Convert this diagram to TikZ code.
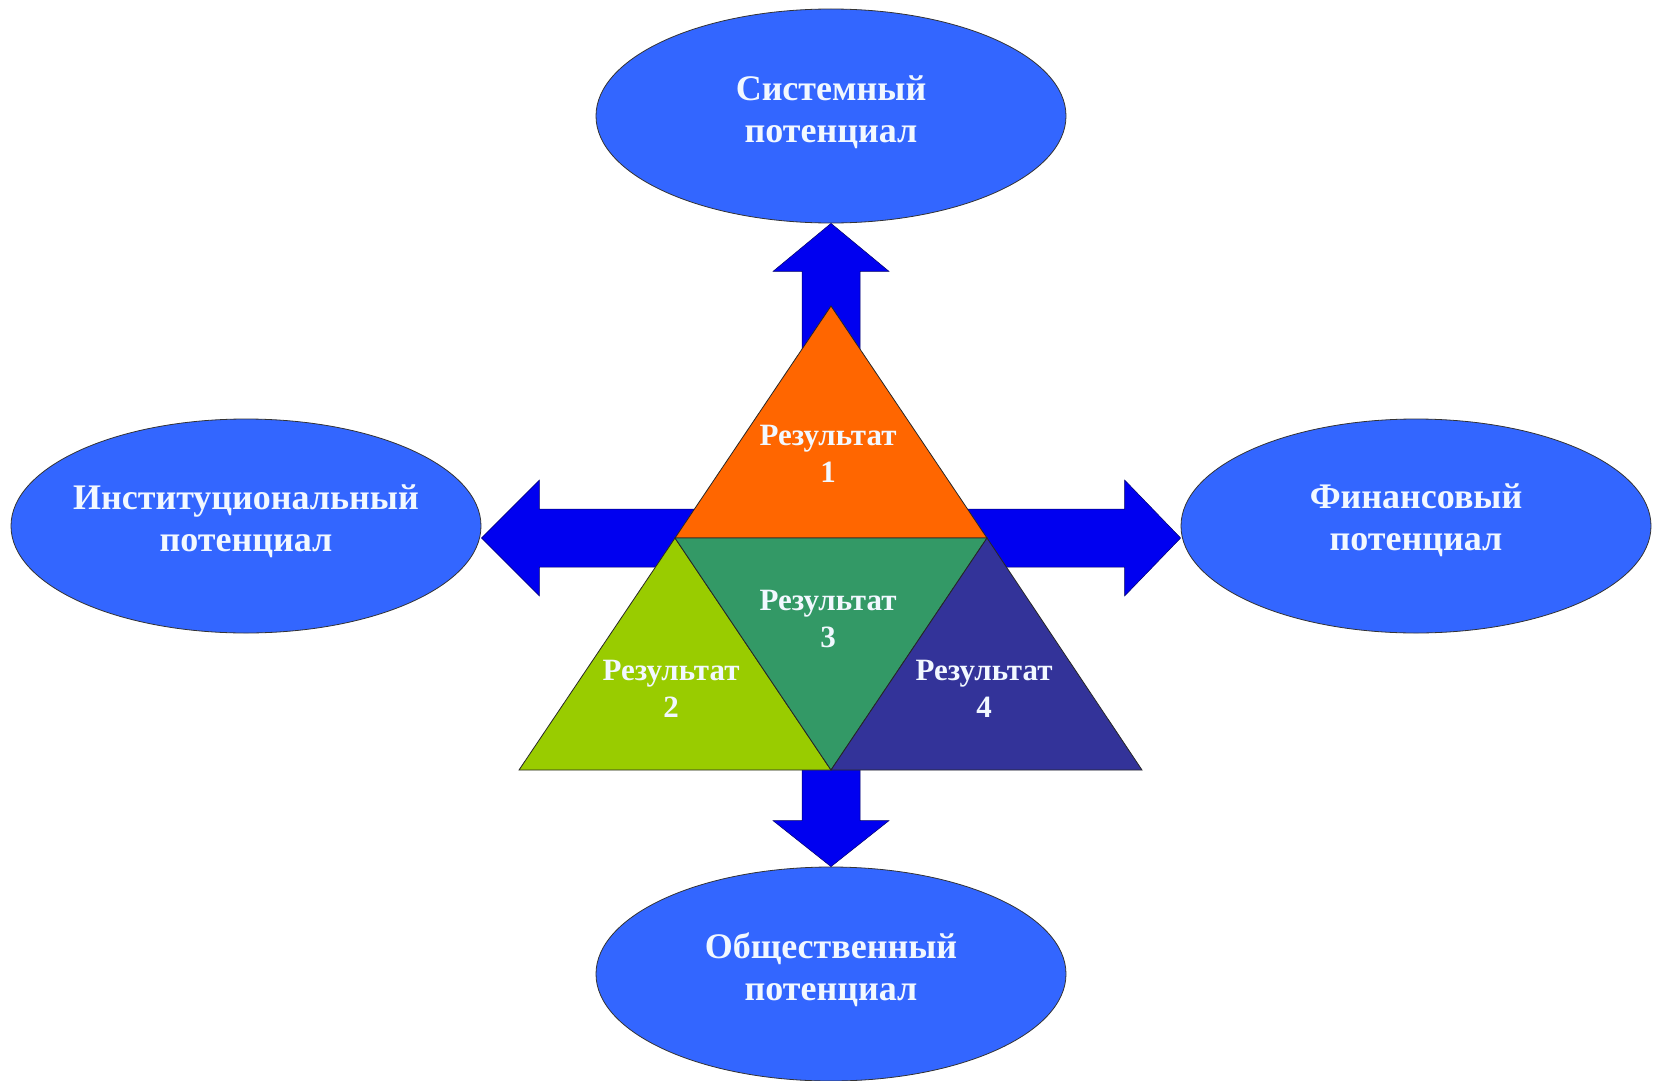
\documentclass[tikz,border=0pt]{standalone}
\usepackage{fontspec}
\setmainfont{Liberation Serif}
\usetikzlibrary{shapes.geometric,calc}
\definecolor{ellblue}{HTML}{3366FF}
\definecolor{arrblue}{HTML}{0000F0}
\definecolor{res1}{HTML}{FF6600}
\definecolor{res2}{HTML}{99CC00}
\definecolor{res3}{HTML}{339966}
\definecolor{res4}{HTML}{333399}
\definecolor{txtwhite}{HTML}{F2F8FF}
\tikzset{
  pot/.style={ellipse, draw=black!80, line width=0.8pt, fill=ellblue, minimum width=470pt, minimum height=214pt, inner sep=0pt},
  pottext/.style={text=txtwhite, font=\fontsize{36}{42}\selectfont\bfseries, align=center, inner sep=0pt},
  restext/.style={text=txtwhite, font=\fontsize{31}{37}\selectfont\bfseries, align=center, inner sep=0pt},
  blockarrow/.style={fill=arrblue, draw=blue!40!black, line width=0.5pt},
  tri/.style={draw=black!85, line width=0.8pt}
}
\begin{document}
\begin{tikzpicture}[x=1pt,y=-1pt]
\useasboundingbox[fill=white] (0,0) rectangle (1654,1081);
% ellipses (positions)
\node[pot] (sys) at (831,116) {};
\node[pot] (inst) at (246,526) {};
\node[pot] (fin) at (1416,526) {};
\node[pot] (soc) at (831,974) {};
% triangle corners
\coordinate (A) at (831,306);
\coordinate (BL) at (519,770);
\coordinate (BR) at (1142,770);
\coordinate (ML) at (675,538);
\coordinate (MR) at (987,538);
\coordinate (BM) at (831,770);
% arrow tips
\coordinate (lt) at (inst.east |- ML);
\coordinate (rt) at (fin.west |- ML);
% up arrow
\draw[blockarrow] (sys.south) -- ++(58,48) -- ++(-29,0) -- ++(0,130) -- ++(-58,0) -- ++(0,-130) -- ++(-29,0) -- cycle;
% horizontal double arrow
\draw[blockarrow] (lt) -- ++(58,-58) -- ++(0,29) -- ($(rt)+(-56,-29)$) -- ++(0,-29) -- (rt) -- ++(-56,58) -- ++(0,-29) -- ($(lt)+(58,29)$) -- ++(0,29) -- cycle;
% down arrow
\draw[blockarrow] (soc.north) -- ++(58,-46) -- ++(-29,0) -- ++(0,-90) -- ++(-58,0) -- ++(0,90) -- ++(-29,0) -- cycle;
% triangles
\draw[tri, fill=res1] (A) -- (MR) -- (ML) -- cycle;
\draw[tri, fill=res2] (ML) -- (BM) -- (BL) -- cycle;
\draw[tri, fill=res3] (ML) -- (MR) -- (BM) -- cycle;
\draw[tri, fill=res4] (MR) -- (BR) -- (BM) -- cycle;
% ellipse texts
\node[pottext] (syst) at ($(sys)+(0,-4)$) {Системный\\потенциал};
\node[pottext] (instt) at ($(inst)+(0,-5)$) {Институциональный\\потенциал};
\node[pottext] (fint) at ($(fin)+(0,-6)$) {Финансовый\\потенциал};
\node[pottext] (soct) at ($(soc)+(0,-4)$) {Общественный\\потенциал};
% triangle texts
\node[restext] (r1) at (828,454) {Результат\\1};
\node[restext] (r2) at (671,689) {Результат\\2};
\node[restext] (r3) at (828,619) {Результат\\3};
\node[restext] (r4) at (984,689) {Результат\\4};
\end{tikzpicture}
\end{document}
